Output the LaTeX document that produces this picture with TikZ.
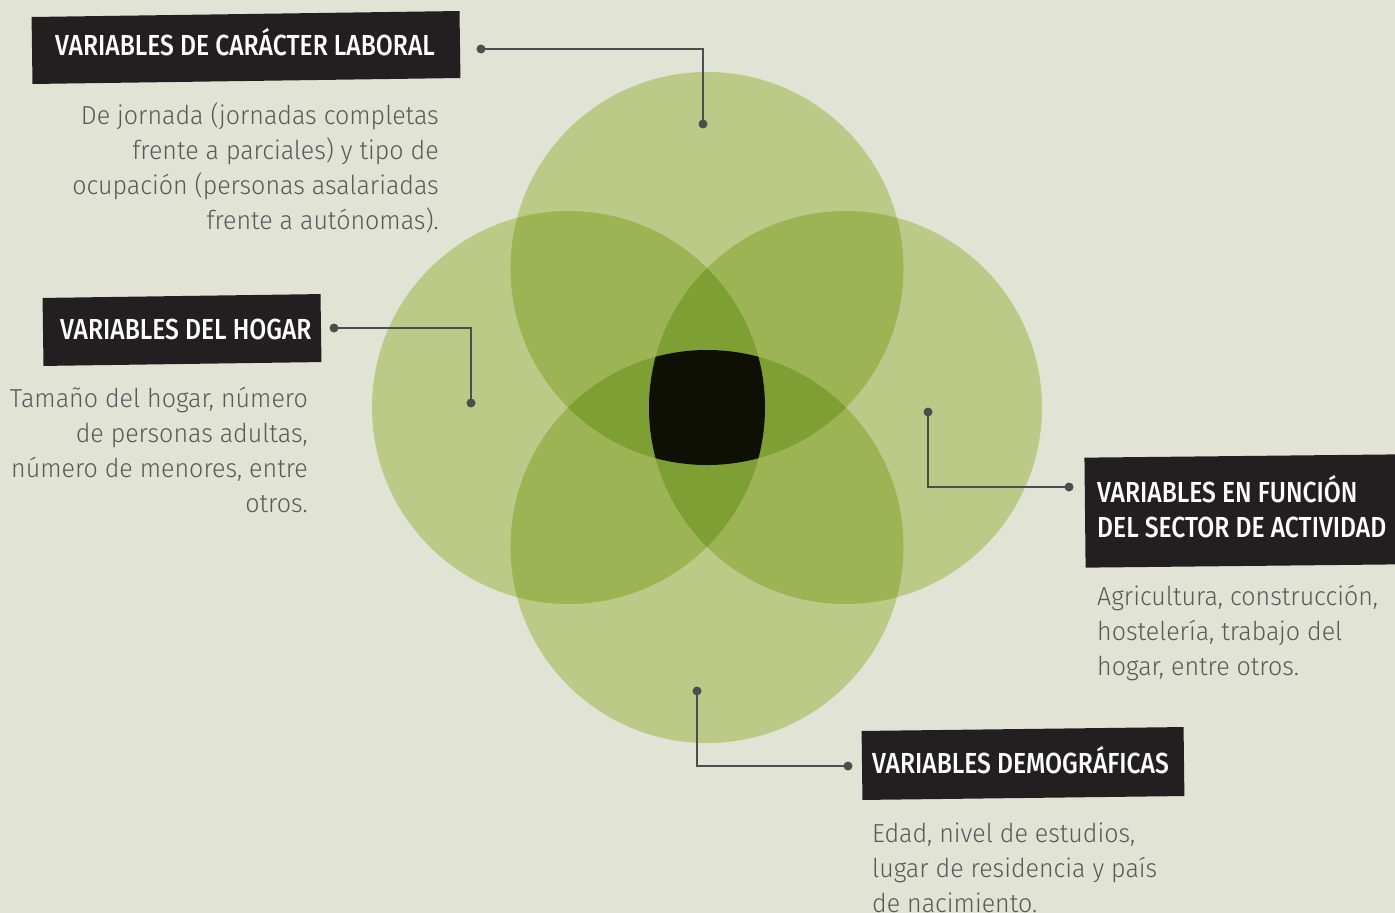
\documentclass[tikz,border=0pt]{standalone}
\usepackage{fontspec}
\setmainfont{Fira Sans}
\newfontfamily\titlefont[UprightFont={* Medium},FakeStretch=0.85]{Fira Sans}
\newfontfamily\bodyfont[UprightFont={* Light},FakeStretch=0.962]{Fira Sans}
\definecolor{bgc}{HTML}{E1E3D5}
\definecolor{gA}{HTML}{BBCA86}
\definecolor{gB}{HTML}{9DB454}
\definecolor{gC}{HTML}{7E9F33}
\definecolor{gD}{HTML}{0E0F05}
\definecolor{boxc}{HTML}{231F20}
\definecolor{txtc}{HTML}{58595B}
\definecolor{linec}{HTML}{4D4D4F}
\tikzset{
  boxs/.style={fill=boxc, inner sep=0pt},
  lbl/.style={text=white, inner sep=0pt, font=\titlefont\fontsize{29}{35}\selectfont},
  desc/.style={text=txtc, inner sep=0pt, font=\bodyfont\fontsize{26}{35}\selectfont},
  conn/.style={draw=linec, line width=2.2pt},
  dotc/.style={fill=linec},
}
\begin{document}
\begin{tikzpicture}[x=1pt,y=-1pt]
\useasboundingbox[fill=bgc] (0,0) rectangle (1395,913);
\def\R{196.5pt}
\coordinate (cT) at (707,268.5);
\coordinate (cB) at (707,546.5);
\coordinate (cL) at (568.5,407.5);
\coordinate (cR) at (845.5,407.5);
% single circles
\foreach \c in {cT,cL,cR,cB}{\fill[gA] (\c) circle (\R);}
% pairwise overlaps
\foreach \a/\b in {cT/cL,cT/cR,cT/cB,cL/cR,cL/cB,cR/cB}{
  \begin{scope}\clip (\a) circle (\R); \fill[gB] (\b) circle (\R);\end{scope}}
% triple overlaps
\foreach \a/\b/\c in {cT/cL/cR,cT/cL/cB,cT/cR/cB,cL/cR/cB}{
  \begin{scope}\clip (\a) circle (\R); \clip (\b) circle (\R); \fill[gC] (\c) circle (\R);\end{scope}}
% all four
\begin{scope}\clip (cT) circle (\R); \clip (cL) circle (\R); \clip (cR) circle (\R); \fill[gD] (cB) circle (\R);\end{scope}

% label boxes
\node[boxs, minimum width=428pt, minimum height=67pt, rotate=0.8] (t1) at (246,47.5) {};
\node[boxs, minimum width=278pt, minimum height=68pt, rotate=0.8] (t2) at (182,330) {};
\node[boxs, minimum width=314pt, minimum height=110pt, rotate=0.6] (t3) at (1242,511) {};
\node[boxs, minimum width=322pt, minimum height=69pt, rotate=0.7] (t4) at (1023,763.5) {};
% label texts
\node[lbl, anchor=base west] (l1) at (55,55.5) {VARIABLES DE CARÁCTER LABORAL};
\node[lbl, anchor=base west] (l2) at (60,339) {VARIABLES DEL HOGAR};
\node[lbl, anchor=base west, align=left] (l3) at (1097,537) {VARIABLES EN FUNCIÓN\\DEL SECTOR DE ACTIVIDAD};
\node[lbl, anchor=base west] (l4) at (872,773) {VARIABLES DEMOGRÁFICAS};

% descriptions
\node[desc, align=right, anchor=north east] (b1) at (439,103) {De jornada (jornadas completas\\frente a parciales) y tipo de\\ocupación (personas asalariadas\\frente a autónomas).};
\node[desc, align=right, anchor=north east] (b2) at (308,387) {Tamaño del hogar, número\\de personas adultas,\\número de menores, entre\\otros.};
\node[desc, align=left, anchor=north west] (b3) at (1097,585) {Agricultura, construcción,\\hostelería, trabajo del\\hogar, entre otros.};
\node[desc, align=left, anchor=north west] (b4) at (872,823) {Edad, nivel de estudios,\\lugar de residencia y país\\de nacimiento.};

% connectors
\coordinate (p1a) at (481,49);  \coordinate (p1b) at (703,124);
\coordinate (p2a) at (334,328); \coordinate (p2b) at (471,403);
\coordinate (p3a) at (928,412); \coordinate (p3b) at (1069,487);
\coordinate (p4a) at (697,691); \coordinate (p4b) at (848,766);
\draw[conn] (p1a) -| (p1b);
\draw[conn] (p2a) -| (p2b);
\draw[conn] (p3a) |- (p3b);
\draw[conn] (p4a) |- (p4b);
\foreach \p in {p1a,p1b,p2a,p2b,p3a,p3b,p4a,p4b}{\fill[dotc] (\p) circle (4.5pt);}
\end{tikzpicture}
\end{document}
